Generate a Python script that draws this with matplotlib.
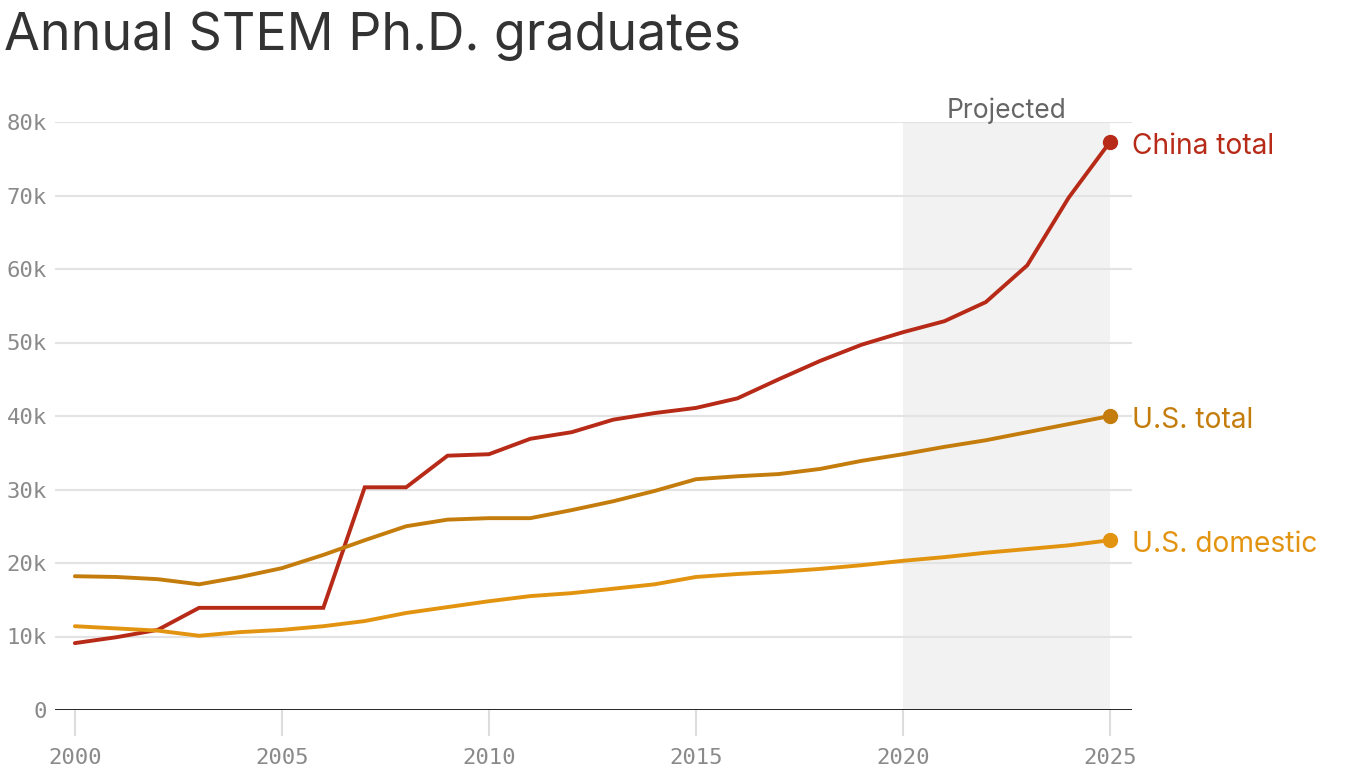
"""Annual STEM Ph.D. graduates: China vs U.S., with projected years shaded."""

import matplotlib

matplotlib.use("Agg")
import matplotlib.pyplot as plt

years = list(range(2000, 2026))
china_total = [9.1, 9.9, 10.9, 13.9, 13.9, 13.9, 13.9, 30.3, 30.3, 34.6,
               34.8, 36.9, 37.8, 39.5, 40.4, 41.1, 42.4, 45.0, 47.5, 49.7,
               51.4, 52.9, 55.5, 60.5, 69.7, 77.3]
us_total = [18.2, 18.1, 17.8, 17.1, 18.1, 19.3, 21.1, 23.1, 25.0, 25.9,
            26.1, 26.1, 27.2, 28.4, 29.8, 31.4, 31.8, 32.1, 32.8, 33.9,
            34.8, 35.8, 36.7, 37.8, 38.9, 40.0]
us_domestic = [11.4, 11.1, 10.8, 10.1, 10.6, 10.9, 11.4, 12.1, 13.2, 14.0,
               14.8, 15.5, 15.9, 16.5, 17.1, 18.1, 18.5, 18.8, 19.2, 19.7,
               20.3, 20.8, 21.4, 21.9, 22.4, 23.1]
series_names = ["China total", "U.S. total", "U.S. domestic"]
series_colors = ["#b72a17", "#c47d0c", "#e29410"]
projected_start, projected_end = 2020, 2025
y_ticks = [0, 10, 20, 30, 40, 50, 60, 70, 80]
y_tick_labels = ["0"] + [f"{v}k" for v in y_ticks[1:]]
x_ticks = [2000, 2005, 2010, 2015, 2020, 2025]

W, H = 1366, 768
fig = plt.figure(figsize=(W / 100, H / 100), dpi=100)
ax = fig.add_axes([55 / W, (H - 710) / H, (1132 - 55) / W, (710 - 122) / H])

ax.axvspan(projected_start, projected_end, color="#f2f2f2", zorder=0, lw=0)
for v in y_ticks[1:]:
    ax.axhline(v, color="#e3e3e3", lw=1.5, zorder=1)
ax.axhline(0, color="#111111", lw=2, zorder=2)

for name, vals, col in zip(series_names, [china_total, us_total, us_domestic], series_colors):
    ax.plot(years, vals, color=col, lw=2.8, zorder=3, solid_capstyle="round",
            solid_joinstyle="miter")
    ax.plot(years[-1], vals[-1], "o", color=col, ms=10, zorder=4, clip_on=False)
    ax.annotate(name, (years[-1], vals[-1]), xytext=(16, -3), textcoords="offset points",
                color=col, fontsize=20.3, family="Inter", va="center", ha="left",
                annotation_clip=False)

ax.text((projected_start + projected_end) / 2, 80.6, "Projected", ha="center", va="baseline",
        fontsize=19, color="#666666", family="Inter")

ax.set_xlim(1999.52, 2025.53)
ax.set_ylim(0, 80)
for s in ax.spines.values():
    s.set_visible(False)

ax.set_yticks(y_ticks)
ax.set_yticklabels(y_tick_labels)
ax.set_xticks(x_ticks)
ax.set_xticklabels([str(x) for x in x_ticks])
ax.tick_params(axis="y", length=0, pad=6, labelsize=16, labelcolor="#8a8a8a")
ax.tick_params(axis="x", length=19, width=1.5, color="#dddddd", pad=8,
               labelsize=16, labelcolor="#8a8a8a", direction="out")
for lab in ax.get_xticklabels() + ax.get_yticklabels():
    lab.set_family("DejaVu Sans Mono")

fig.text(4 / W, 1 - 36 / H, "Annual STEM Ph.D. graduates", fontsize=37.4, color="#333333",
         family="Inter", va="center", ha="left")

fig.savefig("out.png", dpi=100)
